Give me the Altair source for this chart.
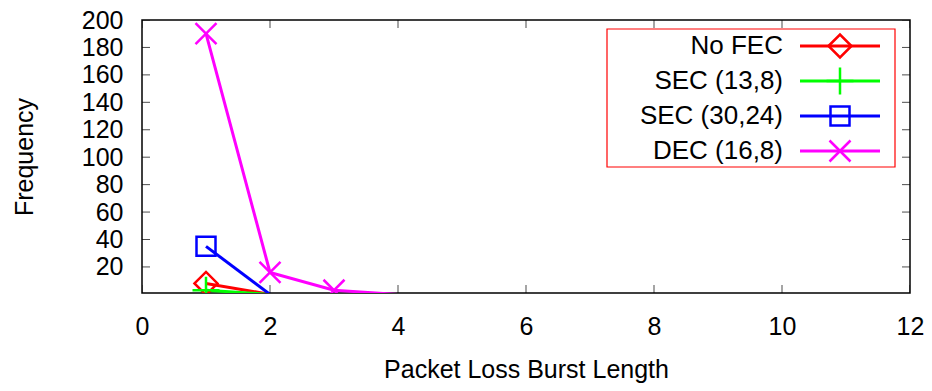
import altair as alt
import pandas as pd

# ---- data ----
series_names = ["No FEC", "SEC (13,8)", "SEC (30,24)", "DEC (16,8)"]
series_colors = ["#ff0000", "#00ff00", "#0000ff", "#ff00ff"]
series_shapes = ["diamond", "M-1,0L1,0M0,-1L0,1", "square", "M-1,-1L1,1M-1,1L1,-1"]
series_sizes = [529, 729, 361, 441]

no_fec_x = [1, 2]
no_fec_y = [8, 0]
sec_13_8_x = [1, 2]
sec_13_8_y = [3, 0]
sec_30_24_x = [1, 2]
sec_30_24_y = [35, 0]
dec_16_8_x = [1, 2, 3, 4]
dec_16_8_y = [190, 16, 3, 0]

x_ticks = [0, 2, 4, 6, 8, 10, 12]
y_ticks = [20, 40, 60, 80, 100, 120, 140, 160, 180, 200]

FONT = "Liberation Sans"

rows = []
for name, msz, xs, ys in zip(series_names, series_sizes,
                             [no_fec_x, sec_13_8_x, sec_30_24_x, dec_16_8_x],
                             [no_fec_y, sec_13_8_y, sec_30_24_y, dec_16_8_y]):
    for xv, yv in zip(xs, ys):
        rows.append({"series": name, "x": xv, "y": yv, "msize": msz})
df = pd.DataFrame(rows)

xscale = alt.Scale(domain=[0, 12], nice=False, zero=False)
yscale = alt.Scale(domain=[1, 200], nice=False, zero=False)

xaxis = alt.Axis(values=x_ticks, title="Packet Loss Burst Length", format="d",
                 labelFontSize=25, titleFontSize=25, labelFont=FONT, titleFont=FONT,
                 labelPadding=21, titlePadding=18, ticks=False, tickSize=0,
                 domain=False, grid=False, labelColor="black", titleColor="black",
                 titleFontWeight="normal", labelFlush=False, labelOverlap=False)
yaxis = alt.Axis(values=y_ticks, title="Frequency", format="d",
                 labelFontSize=25, titleFontSize=25, labelFont=FONT, titleFont=FONT,
                 labelPadding=19, titlePadding=44, ticks=False, tickSize=0,
                 domain=False, grid=False, labelColor="black", titleColor="black",
                 titleFontWeight="normal", labelFlush=False, labelOverlap=False)

color = alt.Color("series:N", scale=alt.Scale(domain=series_names, range=series_colors), legend=None)
shape = alt.Shape("series:N", scale=alt.Scale(domain=series_names, range=series_shapes), legend=None)
size = alt.Size("msize:Q", scale=None, legend=None)

base = alt.Chart(df)
lines = base.mark_line(strokeWidth=3, clip=True).encode(
    x=alt.X("x:Q", scale=xscale, axis=xaxis),
    y=alt.Y("y:Q", scale=yscale, axis=yaxis),
    color=color,
    order=alt.Order("x:Q"),
)
# markers outside the y range (below 1) are not drawn, as in gnuplot
points = base.transform_filter("datum.y >= 1").mark_point(
    filled=False, strokeWidth=2.5, opacity=1, clip=True).encode(
    x=alt.X("x:Q", scale=xscale, axis=xaxis),
    y=alt.Y("y:Q", scale=yscale, axis=yaxis),
    color=color, shape=shape, size=size,
)

ytick_df = pd.DataFrame({"t": y_ticks})
xtick_df = pd.DataFrame({"t": x_ticks})
tick_style = dict(size=16, thickness=1, color="black", clip=True)
left_ticks = alt.Chart(ytick_df).mark_tick(orient="horizontal", **tick_style).encode(
    x=alt.XDatum(0, scale=xscale, axis=xaxis, type="quantitative"),
    y=alt.Y("t:Q", scale=yscale, axis=yaxis))
right_ticks = alt.Chart(ytick_df).mark_tick(orient="horizontal", **tick_style).encode(
    x=alt.XDatum(12, scale=xscale, axis=xaxis, type="quantitative"),
    y=alt.Y("t:Q", scale=yscale, axis=yaxis))
bottom_ticks = alt.Chart(xtick_df).mark_tick(orient="vertical", **tick_style).encode(
    x=alt.X("t:Q", scale=xscale, axis=xaxis),
    y=alt.YDatum(1, scale=yscale, axis=yaxis, type="quantitative"))
top_ticks = alt.Chart(xtick_df).mark_tick(orient="vertical", **tick_style).encode(
    x=alt.X("t:Q", scale=xscale, axis=xaxis),
    y=alt.YDatum(200, scale=yscale, axis=yaxis, type="quantitative"))

# ---- key (legend) box drawn inside the plot, gnuplot style ----
leg_df = pd.DataFrame({"series": series_names, "msize": series_sizes,
                       "py": [26 + 35 * i for i in range(4)]})
leg_y = alt.Y("py:Q", scale=None)
leg_text = alt.Chart(leg_df).mark_text(align="right", baseline="middle", fontSize=26,
                                       font=FONT, color="black").encode(
    x=alt.value(641), y=leg_y, text="series:N")
leg_rule = alt.Chart(leg_df).mark_rule(strokeWidth=3).encode(
    x=alt.value(658), x2=alt.value(738), y=leg_y, color=color)
leg_pts = alt.Chart(leg_df).mark_point(filled=False, strokeWidth=2.5, opacity=1).encode(
    x=alt.value(698), y=leg_y, color=color, shape=shape, size=size)
leg_box = alt.Chart(pd.DataFrame({"k": [0]})).mark_rect(
    fillOpacity=0, stroke="#ff0000", strokeWidth=1.2).encode(
    x=alt.value(465), x2=alt.value(753), y=alt.value(9), y2=alt.value(147))

chart = alt.layer(
    lines, points, left_ticks, right_ticks, bottom_ticks, top_ticks,
    leg_box, leg_rule, leg_pts, leg_text,
).properties(
    width=768, height=273,
    padding={"left": 134, "top": 12, "right": 14, "bottom": 90},
    autosize=alt.AutoSizeParams(type="none"),
    background="white",
).configure_view(stroke="black", strokeWidth=1.5)

chart.save("out.html", embed_options={"renderer": "svg", "actions": False})
